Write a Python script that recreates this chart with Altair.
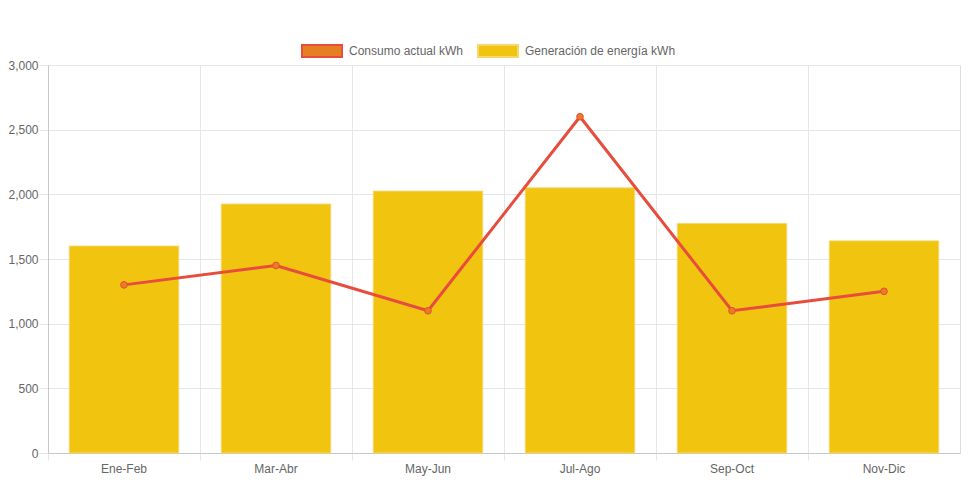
import altair as alt
import pandas as pd

periodos = ["Ene-Feb", "Mar-Abr", "May-Jun", "Jul-Ago", "Sep-Oct", "Nov-Dic"]
consumo = [1300, 1450, 1100, 2600, 1100, 1250]
generacion = [1600, 1925, 2025, 2050, 1775, 1640]
series = ["Consumo actual kWh", "Generación de energía kWh"]
y_ticks = [0, 500, 1000, 1500, 2000, 2500, 3000]

df = pd.DataFrame(
    [{"periodo": p, "serie": series[0], "valor": v} for p, v in zip(periodos, consumo)]
    + [{"periodo": p, "serie": series[1], "valor": v} for p, v in zip(periodos, generacion)]
)

FONT = "Liberation Sans"
GRID = "#e6e6e6"
LABEL = "#666666"

fill_scale = alt.Scale(domain=series, range=["#e67e22", "#f1c40f"])
stroke_scale = alt.Scale(domain=series, range=["#e74c3c", "#f5d76e"])

legend = alt.Legend(
    title=None,
    orient="none",
    direction="horizontal",
    legendX=253,
    legendY=-35,
    symbolType="M-1,-0.3H1V0.3H-1Z",
    symbolSize=1600,
    symbolStrokeWidth=2,
    symbolOpacity=1,
    labelFont=FONT,
    labelFontSize=12,
    labelColor=LABEL,
    labelOffset=6,
    columnPadding=10,
)

x = alt.X(
    "periodo:N",
    sort=periodos,
    title=None,
    scale=alt.Scale(paddingInner=0, paddingOuter=0),
    axis=alt.Axis(
        bandPosition=0,
        labelAngle=0,
        labelFont=FONT,
        labelFontSize=12,
        labelColor=LABEL,
        labelPadding=3,
        tickSize=7,
        tickColor=GRID,
        gridColor=GRID,
        domainColor="#c8c8c8",
        grid=True,
    ),
)

y = alt.Y(
    "valor:Q",
    title=None,
    scale=alt.Scale(domain=[0, 3000], nice=False),
    axis=alt.Axis(
        values=y_ticks,
        format=",.0f",
        labelFont=FONT,
        labelFontSize=12,
        labelColor=LABEL,
        labelPadding=1,
        tickSize=9,
        tickColor=GRID,
        gridColor=GRID,
        domainColor="#c8c8c8",
    ),
)

base = alt.Chart(df)

bars = base.transform_filter(alt.datum.serie == series[1]).mark_bar(
    width={"band": 0.72}, strokeWidth=1
).encode(
    x=x,
    y=y,
    fill=alt.Fill("serie:N", scale=fill_scale, legend=legend),
    stroke=alt.Stroke("serie:N", scale=stroke_scale, legend=legend),
)

line = base.transform_filter(alt.datum.serie == series[0]).mark_line(
    strokeWidth=3
).encode(
    x=x,
    y=y,
    stroke=alt.Stroke("serie:N", scale=stroke_scale, legend=legend),
)

points = base.transform_filter(alt.datum.serie == series[0]).mark_point(
    filled=False, size=45, strokeWidth=1, opacity=1, shape="circle"
).encode(
    x=x,
    y=y,
    fill=alt.Fill("serie:N", scale=fill_scale, legend=legend),
    stroke=alt.Stroke("serie:N", scale=stroke_scale, legend=legend),
)

chart = alt.layer(bars, line, points).properties(
    width=912,
    height=388,
    autosize=alt.AutoSizeParams(type="none"),
    padding={"left": 40, "top": 57, "right": 3, "bottom": 24},
).configure_view(stroke=GRID).configure(background="white")

chart.save("out.html", embed_options={"renderer": "svg", "actions": False})
